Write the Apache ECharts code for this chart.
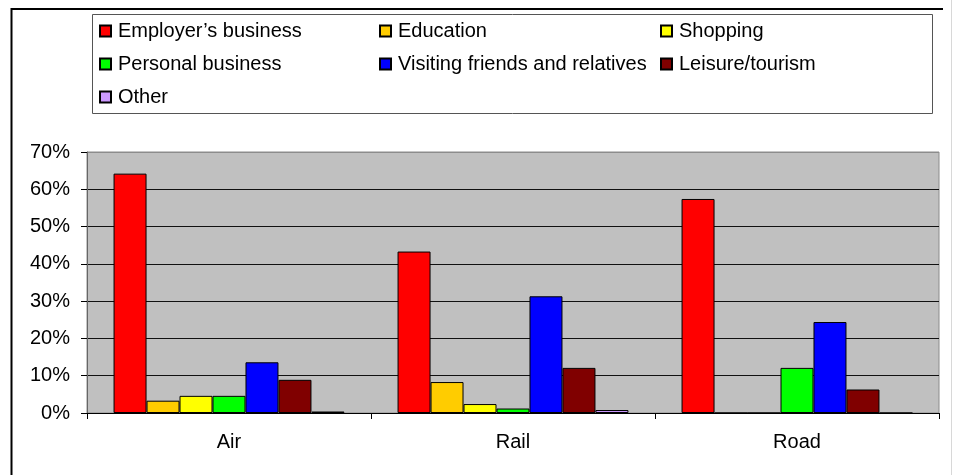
<!DOCTYPE html>
<html>
<head>
<meta charset="utf-8">
<script src="https://cdn.jsdelivr.net/npm/echarts@6/dist/echarts.min.js"></script>
<style>
  html, body { margin: 0; padding: 0; background: #fff; }
  #chart { width: 953px; height: 475px; }
</style>
</head>
<body>
<div id="chart"></div>
<script>
// Trip purpose share by mode (percent)
const modes = ['Air', 'Rail', 'Road'];
const purposes = ['Employer\u2019s business', 'Education', 'Shopping', 'Personal business',
                  'Visiting friends and relatives', 'Leisure/tourism', 'Other'];
const employersBusiness = [64.2, 43.3, 57.4];
const education = [3.3, 8.3, 0];
const shopping = [4.6, 2.4, 0];
const personalBusiness = [4.6, 1.2, 12.1];
const visitingFriends = [13.6, 31.3, 24.4];
const leisureTourism = [8.9, 12.1, 6.3];
const other = [0.4, 0.8, 0];
const yTicks = [0, 10, 20, 30, 40, 50, 60, 70];

const seriesValues = [employersBusiness, education, shopping, personalBusiness,
                      visitingFriends, leisureTourism, other];
const colors = ['#FF0000', '#FFCC00', '#FFFF00', '#00FF00', '#0000FF', '#800000', '#CC99FF'];

const FONT = '"Liberation Sans", Arial, sans-serif';
const chart = echarts.init(document.getElementById('chart'), null, { renderer: 'canvas' });

const legendCommon = {
  orient: 'vertical',
  top: 21,
  padding: 0,
  itemWidth: 11,
  itemHeight: 11,
  itemGap: 13,
  icon: 'rect',
  selectedMode: false,
  textStyle: { fontFamily: FONT, fontSize: 20, color: '#000', lineHeight: 20, padding: [0, 0, 0, 2] }
};

chart.setOption({
  animation: false,
  backgroundColor: '#fff',
  textStyle: { fontFamily: FONT },
  graphic: [
    // outer frame
    { type: 'line', shape: { x1: 11.5, y1: 8, x2: 11.5, y2: 475 }, style: { stroke: '#000', lineWidth: 2 } },
    { type: 'line', shape: { x1: 11, y1: 9, x2: 943, y2: 9 }, style: { stroke: '#000', lineWidth: 2 } },
    { type: 'line', shape: { x1: 951.5, y1: 0, x2: 951.5, y2: 475 }, style: { stroke: '#d8d8d8', lineWidth: 1 } },
    // legend box
    { type: 'rect', shape: { x: 92.5, y: 14.5, width: 840, height: 99 },
      style: { fill: '#fff', stroke: '#555', lineWidth: 1 }, z: -1 }
  ],
  legend: [
    Object.assign({ left: 99, data: [purposes[0], purposes[3], purposes[6]] }, legendCommon),
    Object.assign({ left: 379, data: [purposes[1], purposes[4]] }, legendCommon),
    Object.assign({ left: 660, data: [purposes[2], purposes[5]] }, legendCommon)
  ],
  grid: {
    left: 87, right: 14, top: 152, bottom: 62,
    show: true, backgroundColor: '#C0C0C0', borderColor: '#8c8c8c', borderWidth: 1
  },
  xAxis: {
    type: 'category',
    data: modes,
    axisLine: { lineStyle: { color: '#000', width: 1 } },
    axisTick: { show: true, length: 6, lineStyle: { color: '#000' } },
    axisLabel: { fontFamily: FONT, fontSize: 20, color: '#000', margin: 19 }
  },
  yAxis: {
    type: 'value',
    min: yTicks[0],
    max: yTicks[yTicks.length - 1],
    interval: 10,
    axisLine: { show: true, lineStyle: { color: '#666', width: 1 } },
    axisTick: { show: true, length: 6, lineStyle: { color: '#000' } },
    axisLabel: { fontFamily: FONT, fontSize: 20, color: '#000', margin: 17, formatter: '{value}%' },
    splitLine: { show: true, lineStyle: { color: ['#000', '#111', '#111', '#111', '#111', '#111', '#111', '#8c8c8c'], width: 1 } }
  },
  series: seriesValues.map((vals, i) => ({
    name: purposes[i],
    type: 'bar',
    data: vals,
    barGap: 0,
    barCategoryGap: '18.7%',
    itemStyle: { color: colors[i], borderColor: '#000', borderWidth: 1 }
  }))
});
</script>
</body>
</html>
